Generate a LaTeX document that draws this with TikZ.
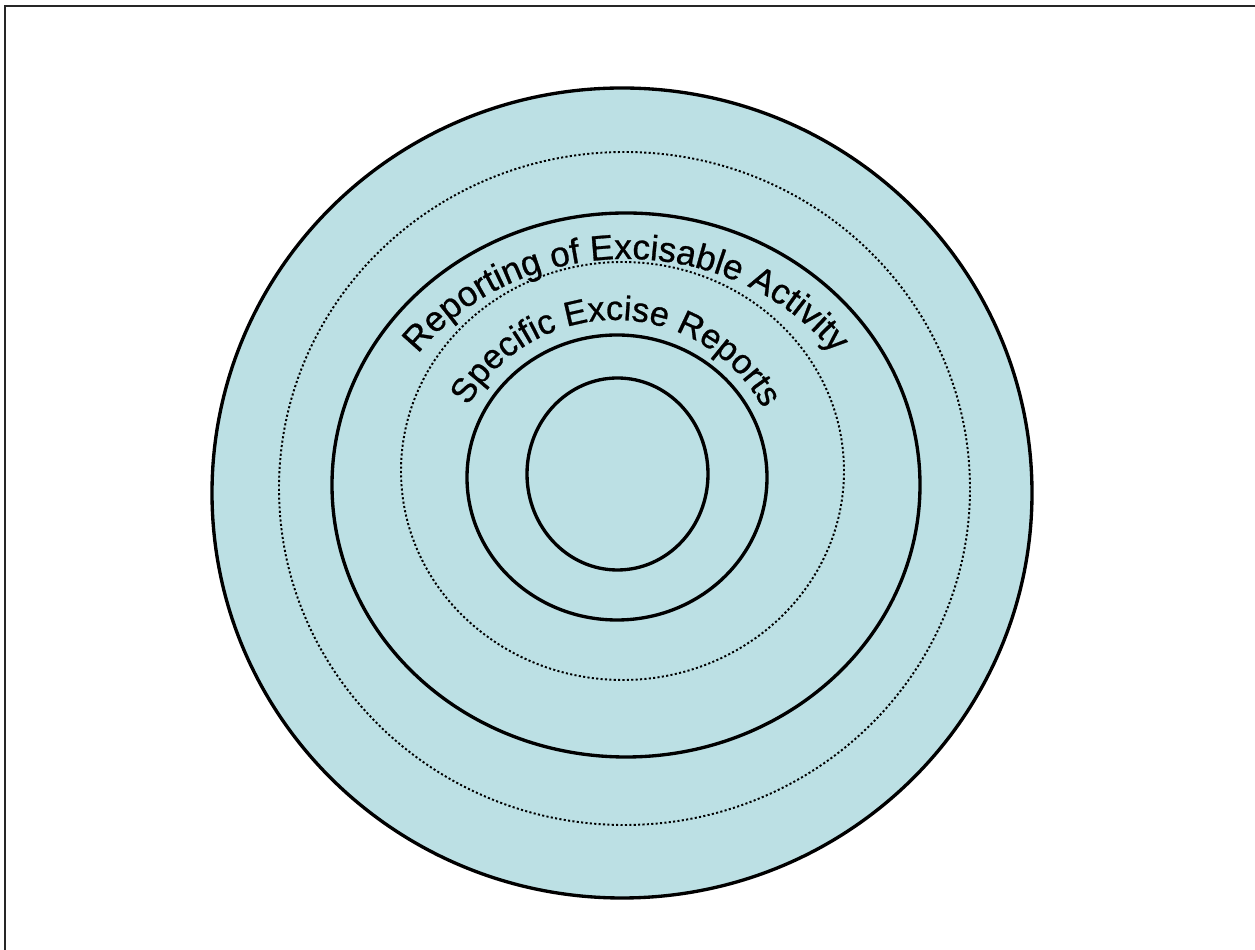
\documentclass[tikz,border=0pt]{standalone}
\usepackage{fontspec}
\newfontfamily\ringfont[FakeBold=0.8]{Liberation Sans}
\usetikzlibrary{decorations.text}
\definecolor{ringblue}{RGB}{188,224,228}
\tikzset{
  ring/.style={draw=black, line width=1.9pt},
  dotring/.style={draw=black, line width=1.1pt, dash pattern=on 1.2pt off 1.3pt},
  arclabel/.style={decorate, decoration={text along path, text align=center, text={#1}}}
}
\begin{document}
\begin{tikzpicture}[x=0.02cm, y=0.02cm]
    \useasboundingbox (0,0) rectangle (1255,950);

    % --- frame ---
    \draw[line width=1.2pt, black!85] (5,0) -- (5,944) -- (1255,944);

    % --- rings ---
    \fill[ringblue] (622,457) ellipse [x radius=410, y radius=405];
    \draw[ring] (622,457) ellipse [x radius=410, y radius=405];
    \draw[dotring] (624.5,461.5) ellipse [x radius=345.5, y radius=336.5];
    \draw[ring] (626,465) ellipse [x radius=294, y radius=272];
    \draw[dotring] (622.5,479) ellipse [x radius=221.5, y radius=209];
    \draw[ring] (617,472.5) ellipse [x radius=150, y radius=142.5];
    \draw[ring] (617.5,476) ellipse [x radius=90.5, y radius=96];

    % --- labels along the arcs ---
    \path[arclabel={|\ringfont\fontsize{20}{24}\selectfont|Reporting of Excisable Activity}]
        (626,465) ++(150:255 and 226) arc [start angle=150, end angle=30, x radius=255, y radius=226];
    \path[arclabel={|\ringfont\fontsize{19.5}{23}\selectfont|Specific Excise Reports}]
        (615,462) ++(152:168) arc [start angle=152, end angle=27, radius=168];
\end{tikzpicture}
\end{document}
